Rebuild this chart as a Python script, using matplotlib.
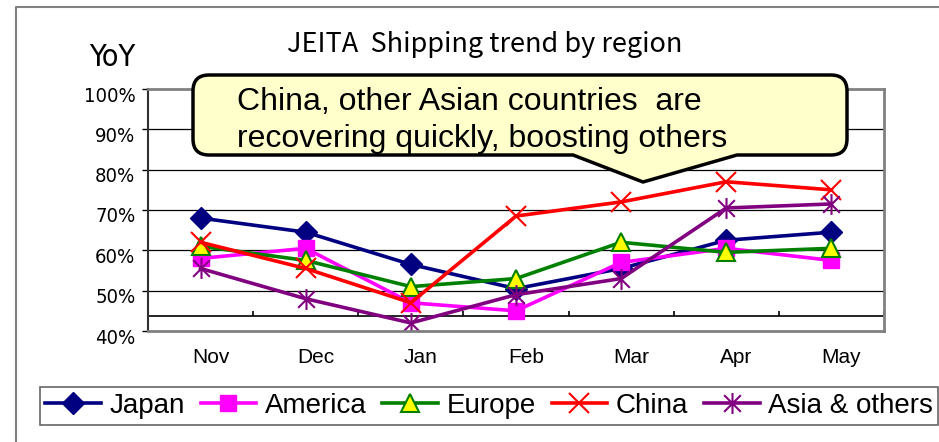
import matplotlib
matplotlib.use("Agg")
import matplotlib.pyplot as plt
from matplotlib import font_manager
from matplotlib.font_manager import FontProperties
from matplotlib.path import Path
from matplotlib.patches import PathPatch
from matplotlib.lines import Line2D
from matplotlib.transforms import Affine2D, ScaledTranslation

months = ["Nov", "Dec", "Jan", "Feb", "Mar", "Apr", "May"]
japan = [68.0, 64.5, 56.5, 50.5, 55.5, 62.5, 64.5]
america = [58.0, 60.5, 47.0, 45.0, 57.0, 60.5, 57.5]
europe = [61.0, 57.5, 51.0, 53.0, 62.0, 59.5, 60.5]
china = [62.0, 55.5, 47.0, 68.5, 72.0, 77.0, 75.0]
asia = [55.5, 48.0, 42.0, 49.0, 53.0, 70.5, 71.5]
yticks = [40, 50, 60, 70, 80, 90, 100]
axis_cross = 43.7

fonts = font_manager.fontManager.ttflist
names = {f.name for f in fonts}
SANS = "Liberation Sans"
TITLE = "Noto Sans CJK JP" if "Noto Sans CJK JP" in names else SANS


def narrow_font(size):
    # a condensed sans face if one is installed, else the regular one a bit smaller
    for fam in ["Liberation Sans Narrow", "Arial Narrow"]:
        if fam in names:
            return FontProperties(family=fam, size=size)
    for f in fonts:
        if (f.name in ("DejaVu Sans", "Liberation Sans") and f.style == "normal"
                and f.weight in (400, "normal") and "condensed" in str(f.stretch)):
            return FontProperties(fname=f.fname, size=size)
    return FontProperties(family=SANS, size=size * 0.88)


W, H = 939, 442
fig = plt.figure(figsize=(W / 100, H / 100), dpi=100)
# pixel coordinates, origin top-left
px = Affine2D().scale(1 / W, -1 / H).translate(0, 1) + fig.transFigure

ax = fig.add_axes([148 / W, (H - 331) / H, (884 - 148) / W, (331 - 89) / H])
x = list(range(len(months)))

# Asia marker: an X with a vertical bar
star = Path([(0, -1), (0, 1), (-0.8, -0.8), (0.8, 0.8), (-0.8, 0.8), (0.8, -0.8)],
            [Path.MOVETO, Path.LINETO, Path.MOVETO, Path.LINETO, Path.MOVETO, Path.LINETO])

ax.plot(x, japan, color="#000080", lw=2.6, marker="D", ms=11, label="Japan")
ax.plot(x, america, color="#FF00FF", lw=2.6, marker="s", ms=12, label="America")
ax.plot(x, europe, color="#008000", lw=2.6, marker="^", ms=13, mfc="#FFFF00",
        mec="#008000", mew=1.5, label="Europe")
ax.plot(x, china, color="#FF0000", lw=2.6, marker="x", ms=14, mew=1.5, label="China")
ax.plot(x, asia, color="#800080", lw=2.6, marker=star, ms=15, mew=1.5, label="Asia & others")

ax.set_xlim(-0.5, len(months) - 0.5)
ax.set_ylim(40, 100)
for v in yticks[1:-1]:
    ax.axhline(v, color="black", lw=0.9, zorder=0)
ax.axhline(axis_cross, color="black", lw=1.2, zorder=0)
ax.vlines([i + 0.5 for i in range(-1, len(months))], axis_cross, axis_cross + 1.3,
          color="black", lw=1.2, zorder=0)

ax.set_yticks(yticks)
ax.set_yticklabels([f"{v}%" for v in yticks], fontproperties=narrow_font(14.5))
ax.tick_params(axis="y", length=4, width=1, pad=5)
for lab in ax.get_yticklabels():
    lab.set_transform(lab.get_transform() + ScaledTranslation(0, -5 / 100, fig.dpi_scale_trans))

ax.set_xticks(x)
ax.set_xticklabels(months, fontfamily=SANS, fontsize=15)
ax.tick_params(axis="x", length=0, pad=12)
for lab in ax.get_xticklabels():
    lab.set_transform(lab.get_transform() + ScaledTranslation(10 / 100, 0, fig.dpi_scale_trans))

for side in ["top", "right", "bottom"]:
    ax.spines[side].set_color("#808080")
    ax.spines[side].set_linewidth(2)
ax.spines["left"].set_color("#303030")
ax.spines["left"].set_linewidth(1.5)

# outer chart frame
fig.add_artist(Line2D([16, 16, W], [H, 7, 7], color="#808080", lw=1.5, transform=px))

fig.text(485, 45, "JEITA  Shipping trend by region", transform=px, ha="center",
         va="center", fontsize=19.5, fontfamily=TITLE)
fig.text(112, 57, "YoY", transform=px, ha="center", va="center",
         fontproperties=narrow_font(22))

# callout bubble
L, R, T, B, r = 193, 847, 75, 155, 16
verts = [(L + r, T), (R - r, T), (R, T), (R, T + r), (R, B - r), (R, B), (R - r, B),
         (737, B), (643, 182), (573, B), (L + r, B), (L, B), (L, B - r), (L, T + r),
         (L, T), (L + r, T), (L + r, T)]
codes = [Path.MOVETO, Path.LINETO, Path.CURVE3, Path.CURVE3, Path.LINETO, Path.CURVE3,
         Path.CURVE3, Path.LINETO, Path.LINETO, Path.LINETO, Path.LINETO, Path.CURVE3,
         Path.CURVE3, Path.LINETO, Path.CURVE3, Path.CURVE3, Path.CLOSEPOLY]
fig.add_artist(PathPatch(Path(verts, codes), facecolor="#FFFFCC", edgecolor="black",
                         lw=2.5, transform=px, zorder=5))
fig.text(237, 110, "China, other Asian countries  are", transform=px, fontsize=23,
         fontfamily=SANS, va="baseline", zorder=6)
fig.text(237, 147, "recovering quickly, boosting others", transform=px, fontsize=23,
         fontfamily=SANS, va="baseline", zorder=6)

leg = fig.legend(loc="center", bbox_to_anchor=(489 / W, (H - 406) / H), ncol=5,
                 prop={"family": SANS, "size": 20}, frameon=True, fancybox=False,
                 handlelength=2.0, handletextpad=0.3, columnspacing=0.58,
                 borderpad=0.2, borderaxespad=0)
leg.get_frame().set_edgecolor("#404040")
leg.get_frame().set_linewidth(1.2)

fig.savefig("out.png", dpi=100)
